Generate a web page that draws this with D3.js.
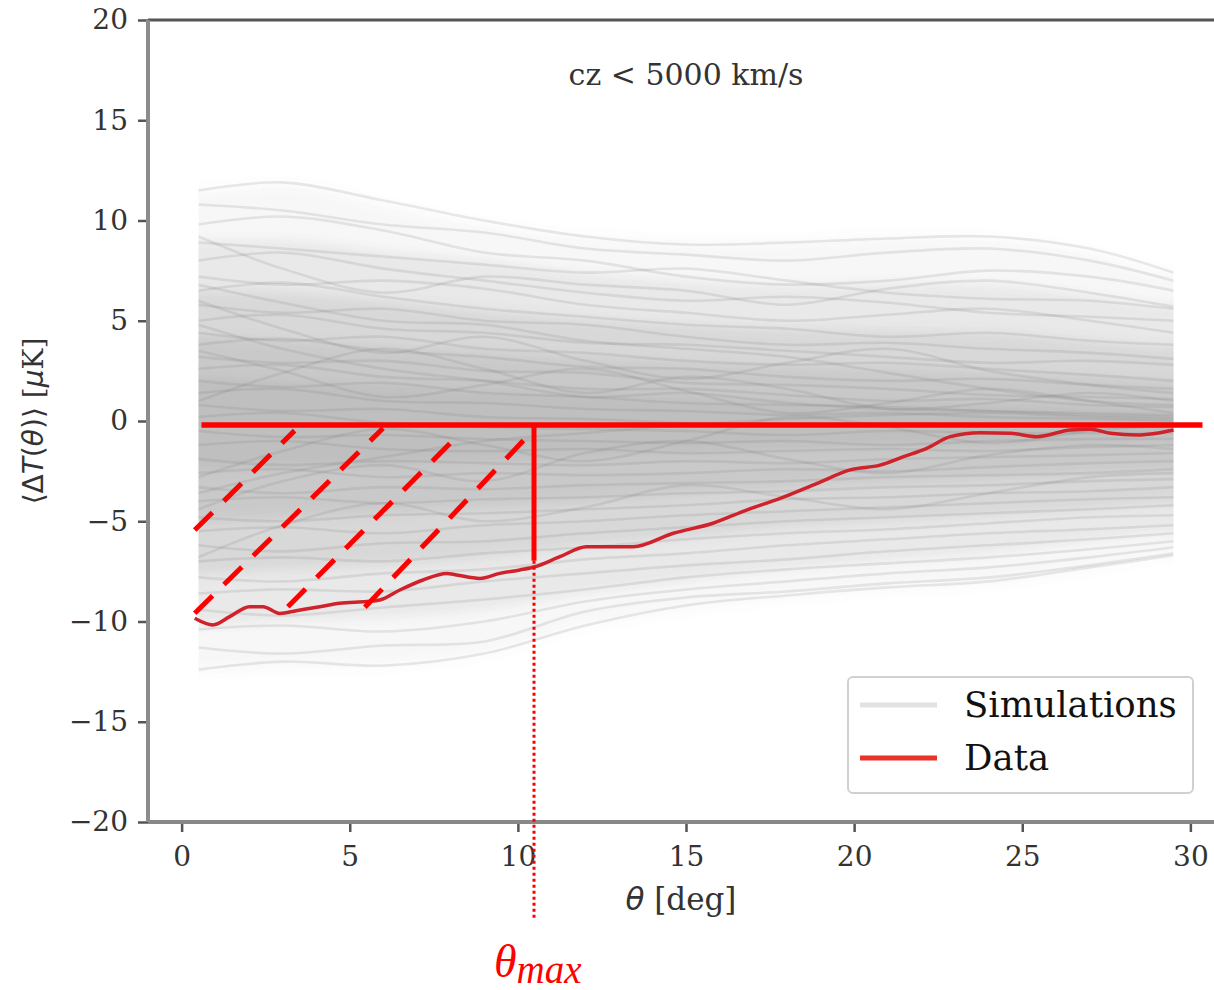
<!DOCTYPE html>
<html><head><meta charset="utf-8">
<script src="https://cdn.jsdelivr.net/npm/d3@7"></script>
<style>body{margin:0;background:#fff}</style>
</head><body>
<svg id="c" width="1214" height="990" xmlns="http://www.w3.org/2000/svg"></svg>
<script>
// ---------- data ----------
const xTicks = [0, 5, 10, 15, 20, 25, 30];
const yTicks = [-20, -15, -10, -5, 0, 5, 10, 15, 20];
const titleText = "cz < 5000 km/s";
const legendLabels = ["Simulations", "Data"];

// sample angles of the simulation curves
const simTheta = [0.5, 3, 6, 9, 12, 15, 18, 21, 24, 27, 29.5];
// simulation spread envelopes, outermost to core
const band1Hi = [11.5, 11.8, 10.8, 9.8, 9.2, 9.0, 9.0, 9.2, 9.1, 8.4, 7.4];
const band1Lo = [-12.5, -12.3, -12.2, -11.6, -10.2, -9.4, -8.8, -8.4, -8.1, -7.4, -6.7];
const band2Hi = [9.0, 9.0, 8.5, 8.0, 7.4, 7.0, 6.8, 6.9, 6.8, 6.3, 5.8];
const band2Lo = [-10.2, -10.0, -9.8, -9.4, -8.6, -8.0, -7.4, -7.0, -6.6, -6.0, -5.6];
const band3Hi = [6.5, 6.4, 6.0, 5.5, 5.1, 4.8, 4.6, 4.5, 4.4, 4.0, 3.7];
const band3Lo = [-7.6, -7.4, -7.2, -6.8, -6.2, -5.8, -5.3, -5.0, -4.7, -4.4, -4.1];
const band4Hi = [4.2, 4.0, 3.7, 3.4, 3.1, 2.9, 2.7, 2.6, 2.4, 2.2, 2.0];
const band4Lo = [-5.0, -4.8, -4.6, -4.3, -4.0, -3.6, -3.3, -3.0, -2.8, -2.6, -2.5];
const band5Hi = [2.2, 2.0, 1.8, 1.6, 1.4, 1.2, 1.0, 0.9, 0.8, 0.7, 0.6];
const band5Lo = [-2.4, -2.3, -2.2, -2.0, -1.8, -1.6, -1.4, -1.3, -1.2, -1.1, -1.0];

// individual simulation curves (values at simTheta)
const simCurves = [
  [11.5, 11.9, 11.0, 10.0, 9.2, 8.8, 8.9, 9.1, 9.2, 8.6, 7.4],
  [10.8, 10.5, 9.8, 9.4, 8.6, 8.3, 8.0, 8.4, 8.6, 8.0, 7.0],
  [9.8, 10.2, 9.5, 8.4, 8.0, 7.2, 6.8, 7.0, 7.5, 7.2, 6.5],
  [8.9, 8.6, 8.2, 7.8, 7.4, 7.6, 7.0, 6.4, 6.1, 6.0, 5.6],
  [8.0, 8.4, 7.6, 7.0, 6.4, 6.0, 6.2, 5.9, 5.4, 5.2, 5.0],
  [7.2, 6.8, 7.0, 6.6, 5.8, 5.4, 5.0, 5.3, 5.6, 5.0, 4.4],
  [6.5, 6.9, 6.2, 5.6, 5.2, 4.8, 4.6, 4.2, 4.4, 4.0, 3.8],
  [5.8, 5.4, 5.6, 5.0, 4.8, 4.2, 3.8, 3.9, 3.6, 3.4, 3.1],
  [5.0, 5.3, 4.6, 4.4, 3.9, 3.8, 3.5, 3.2, 2.9, 3.0, 2.8],
  [4.4, 4.0, 4.2, 3.6, 3.4, 3.0, 2.8, 2.9, 2.6, 2.3, 2.0],
  [3.8, 4.1, 3.5, 3.2, 2.7, 2.6, 2.2, 2.0, 2.1, 1.8, 1.6],
  [3.2, 2.9, 3.0, 2.5, 2.4, 1.9, 1.8, 1.6, 1.3, 1.2, 1.1],
  [2.6, 2.8, 2.2, 2.0, 1.6, 1.6, 1.3, 1.0, 1.1, 0.8, 0.7],
  [2.0, 1.7, 1.9, 1.4, 1.2, 0.9, 0.8, 0.7, 0.5, 0.4, 0.3],
  [1.4, 1.6, 1.0, 0.9, 0.6, 0.5, 0.3, 0.4, 0.2, 0.1, 0.0],
  [0.8, 0.5, 0.6, 0.2, 0.1, -0.1, -0.2, -0.1, -0.2, -0.3, -0.3],
  [0.2, 0.4, -0.1, -0.3, -0.4, -0.5, -0.7, -0.5, -0.6, -0.6, -0.6],
  [-0.5, -0.8, -0.7, -0.9, -1.0, -1.1, -1.0, -1.2, -1.0, -0.9, -0.9],
  [-1.2, -1.0, -1.4, -1.5, -1.4, -1.6, -1.5, -1.4, -1.5, -1.3, -1.2],
  [-1.9, -2.2, -2.0, -2.1, -2.2, -2.0, -2.1, -1.9, -1.8, -1.7, -1.6],
  [-2.6, -2.4, -2.8, -2.6, -2.7, -2.6, -2.4, -2.5, -2.3, -2.1, -2.0],
  [-3.3, -3.6, -3.3, -3.4, -3.2, -3.1, -3.0, -2.8, -2.7, -2.6, -2.4],
  [-4.0, -3.8, -4.1, -3.9, -3.8, -3.6, -3.5, -3.3, -3.2, -3.0, -2.9],
  [-4.8, -5.0, -4.7, -4.6, -4.4, -4.2, -3.9, -3.8, -3.6, -3.5, -3.3],
  [-5.5, -5.3, -5.6, -5.2, -5.0, -4.7, -4.5, -4.3, -4.1, -3.9, -3.8],
  [-6.2, -6.5, -6.1, -6.0, -5.6, -5.3, -5.0, -4.8, -4.6, -4.4, -4.2],
  [-7.0, -6.8, -7.0, -6.6, -6.3, -5.9, -5.6, -5.4, -5.1, -4.8, -4.7],
  [-7.8, -8.0, -7.6, -7.4, -6.9, -6.6, -6.2, -5.9, -5.6, -5.4, -5.2],
  [-8.6, -8.4, -8.5, -8.0, -7.6, -7.2, -6.9, -6.5, -6.2, -5.9, -5.6],
  [-9.4, -9.7, -9.3, -8.9, -8.4, -7.8, -7.4, -7.1, -6.8, -6.4, -6.0],
  [-10.4, -10.2, -10.5, -10.0, -9.0, -8.4, -8.0, -7.6, -7.3, -6.8, -6.3],
  [-11.3, -11.6, -11.2, -11.0, -9.5, -8.8, -8.5, -8.1, -7.8, -7.2, -6.6],
  [-12.4, -12.0, -12.2, -11.6, -10.2, -9.2, -8.7, -8.3, -8.0, -7.3, -6.7],
  [3.5, 2.5, 1.2, 1.8, 2.6, 1.5, 0.4, 0.9, 1.6, 1.0, 0.4],
  [-2.8, -1.5, -0.4, -1.2, -2.0, -1.0, 0.2, -0.3, -1.1, -0.5, -0.2],
  [6.0, 4.6, 3.4, 4.2, 3.0, 2.1, 2.9, 3.6, 2.5, 1.8, 1.4],
  [-6.8, -5.2, -4.1, -5.0, -4.3, -3.2, -3.8, -4.4, -3.6, -2.8, -2.6],
  [1.0, 2.4, 3.6, 2.6, 1.4, 2.2, 1.6, 0.6, 0.9, 1.4, 1.0],
  [-4.4, -3.0, -2.2, -3.0, -1.6, -1.0, -1.9, -2.6, -1.7, -1.2, -1.4],
  [9.2, 7.6, 6.4, 7.2, 6.8, 6.5, 5.8, 6.6, 7.0, 6.4, 5.7],
  [4.8, 3.6, 2.6, 2.0, 1.2, 1.4, 0.9, 0.6, 0.5, 0.3, 0.2],
  [-3.6, -2.6, -1.8, -1.0, -0.6, -0.2, 0.1, 0.3, 0.4, 0.2, 0.1],
  [6.8, 5.9, 5.0, 4.8, 4.0, 3.6, 3.2, 2.4, 1.6, 1.0, 0.8]
];

// measured data curve
const dataTheta = [0.39, 0.93, 1.43, 2.02, 2.42, 2.92, 3.41, 4.11, 4.70, 5.50, 5.89, 6.49, 7.18, 7.88, 8.18, 8.87, 9.46, 10.06, 10.51, 11.25, 12.04, 13.43, 14.62, 15.8, 16.8, 17.8, 18.9, 19.88, 20.77, 21.47, 22.16, 22.86, 23.75, 24.64, 25.44, 26.43, 27.02, 27.62, 28.41, 29.0, 29.5];
const dataDeltaT = [-9.84, -10.17, -9.76, -9.26, -9.26, -9.6, -9.46, -9.26, -9.09, -9.0, -8.93, -8.43, -7.93, -7.6, -7.68, -7.85, -7.6, -7.43, -7.27, -6.77, -6.27, -6.27, -5.6, -5.1, -4.44, -3.86, -3.11, -2.44, -2.2, -1.78, -1.36, -0.78, -0.58, -0.61, -0.78, -0.45, -0.41, -0.61, -0.7, -0.61, -0.45];

// annotation (in data units)
const refLineTheta = [0.59, 30.36];
const refLineLevel = -0.2;
const thetaMax = 10.48;
const thetaMaxSpan = [-0.2, -6.97];
const thetaMaxDrop = [-6.97, -24.8];
const hatchFrom = [[0.39, -5.44], [0.39, -9.59], [3.16, -9.26], [5.45, -9.29]];
const hatchTo = [[3.36, -0.48], [5.99, -0.36], [8.06, -0.98], [10.23, -0.86]];

// ---------- drawing ----------
const svg = d3.select("#c");
const x = d3.scaleLinear().domain([-1, 31]).range([148, 1224]);
const y = d3.scaleLinear().domain([-20, 20]).range([822, 20]);
const serif = "'DejaVu Serif', serif";
const txt = "#333";

const defs = svg.append("defs");
defs.append("filter").attr("id", "soft").attr("x", "-5%").attr("y", "-5%").attr("width", "110%").attr("height", "110%")
  .append("feGaussianBlur").attr("stdDeviation", 6);
defs.append("clipPath").attr("id", "simclip").append("rect")
  .attr("x", x(simTheta[0])).attr("width", x(simTheta[simTheta.length - 1]) - x(simTheta[0]))
  .attr("y", y(20)).attr("height", y(-20) - y(20));

const plot = svg.append("g").attr("clip-path", "url(#simclip)");
const bandG = plot.append("g").attr("filter", "url(#soft)");

// envelopes
const bands = [[band1Lo, band1Hi, 0.06], [band2Lo, band2Hi, 0.10], [band3Lo, band3Hi, 0.14], [band4Lo, band4Hi, 0.14], [band5Lo, band5Hi, 0.11]];
bands.forEach(([lo, hi, op]) => {
  const pts = simTheta.map((t, i) => [t, lo[i], hi[i]]);
  // extend slightly beyond the ends so the clip gives crisp ends
  pts.unshift([simTheta[0] - 0.6, lo[0], hi[0]]);
  pts.push([simTheta[simTheta.length - 1] + 0.6, lo[lo.length - 1], hi[hi.length - 1]]);
  bandG.append("path")
    .datum(pts)
    .attr("d", d3.area().x(d => x(d[0])).y0(d => y(d[1])).y1(d => y(d[2])).curve(d3.curveMonotoneX))
    .attr("fill", "#707070").attr("fill-opacity", op);
});

const simLine = d3.line().x(d => x(d[0])).y(d => y(d[1])).curve(d3.curveCatmullRom.alpha(0.5));
simCurves.forEach(c => {
  plot.append("path")
    .datum(simTheta.map((t, i) => [t, c[i]]))
    .attr("d", simLine)
    .attr("fill", "none").attr("stroke", "#7a7a7a").attr("stroke-opacity", 0.17).attr("stroke-width", 2.6);
});

// data line
svg.append("path")
  .datum(dataTheta.map((t, i) => [t, dataDeltaT[i]]))
  .attr("d", d3.line().x(d => x(d[0])).y(d => y(d[1])).curve(d3.curveMonotoneX))
  .attr("fill", "none").attr("stroke", "#d0222a").attr("stroke-width", 3.5);

// axes
const ax = svg.append("g").attr("transform", `translate(0,${y(-20)})`)
  .call(d3.axisBottom(x).tickValues(xTicks).tickSize(10).tickPadding(14).tickFormat(d3.format("d")));
const ay = svg.append("g").attr("transform", `translate(${x(-1)},0)`)
  .call(d3.axisLeft(y).tickValues(yTicks).tickSize(10).tickPadding(10).tickFormat(d => d < 0 ? "\u2212" + Math.abs(d) : d));
[ax, ay].forEach(g => {
  g.select(".domain").remove();
  g.selectAll(".tick line").attr("stroke", "#555").attr("stroke-width", 2.5);
  g.selectAll(".tick text").attr("fill", txt).style("font-family", serif).style("font-size", "28px");
});
// spines
svg.append("line").attr("x1", x(-1)).attr("x2", x(31)).attr("y1", y(20)).attr("y2", y(20)).attr("stroke", "#555").attr("stroke-width", 3);
svg.append("line").attr("x1", x(-1)).attr("x2", x(31)).attr("y1", y(-20)).attr("y2", y(-20)).attr("stroke", "#888").attr("stroke-width", 4);
svg.append("line").attr("x1", x(-1)).attr("x2", x(-1)).attr("y1", y(20)).attr("y2", y(-20)).attr("stroke", "#8c8c8c").attr("stroke-width", 4);

// title
svg.append("text").attr("x", x(15)).attr("y", 85).attr("text-anchor", "middle")
  .style("font-family", serif).style("font-size", "30px").attr("fill", txt).text(titleText);

// x label
const xl = svg.append("text").attr("x", x(14.85)).attr("y", 910).attr("text-anchor", "middle")
  .style("font-family", serif).style("font-size", "31px").attr("fill", txt);
xl.append("tspan").style("font-style", "italic").style("font-family", "'DejaVu Sans', sans-serif").text("\u03b8");
xl.append("tspan").text(" [deg]");

// y label
const yl = svg.append("text").attr("transform", `translate(43,${y(0)}) rotate(-90)`).attr("text-anchor", "middle")
  .style("font-family", serif).style("font-size", "28px").attr("fill", txt);
yl.append("tspan").style("font-family", "'DejaVu Sans', sans-serif").text("\u27e8\u0394");
yl.append("tspan").style("font-family", "'DejaVu Sans', sans-serif").style("font-style", "italic").text("T");
yl.append("tspan").style("font-family", "'DejaVu Sans', sans-serif").text("(");
yl.append("tspan").style("font-family", "'DejaVu Sans', sans-serif").style("font-style", "italic").text("\u03b8");
yl.append("tspan").style("font-family", "'DejaVu Sans', sans-serif").text(")\u27e9");
yl.append("tspan").text(" [");
yl.append("tspan").style("font-family", "'DejaVu Sans', sans-serif").style("font-style", "italic").text("\u03bc");
yl.append("tspan").text("K]");

// legend
const lg = svg.append("g");
lg.append("rect").attr("x", 848).attr("y", 677).attr("width", 345).attr("height", 116).attr("rx", 5)
  .attr("fill", "#fff").attr("fill-opacity", 0.85).attr("stroke", "#d0d0d0").attr("stroke-width", 2);
lg.append("line").attr("x1", 860).attr("x2", 937).attr("y1", 705).attr("y2", 705).attr("stroke", "#e2e2e2").attr("stroke-width", 5);
lg.append("line").attr("x1", 860).attr("x2", 937).attr("y1", 758).attr("y2", 758).attr("stroke", "#e8332a").attr("stroke-width", 5);
legendLabels.forEach((l, i) => {
  lg.append("text").attr("x", 964).attr("y", 717 + i * 53).style("font-family", serif).style("font-size", "35.5px")
    .attr("fill", "#111").text(l);
});

// red annotation
const ann = svg.append("g").attr("stroke", "#ff0000").attr("fill", "none");
ann.append("line").attr("x1", x(refLineTheta[0])).attr("x2", x(refLineTheta[1]))
  .attr("y1", y(refLineLevel)).attr("y2", y(refLineLevel)).attr("stroke-width", 5.5);
ann.append("line").attr("x1", x(thetaMax)).attr("x2", x(thetaMax))
  .attr("y1", y(thetaMaxSpan[0])).attr("y2", y(thetaMaxSpan[1])).attr("stroke-width", 5);
ann.append("line").attr("x1", x(thetaMax)).attr("x2", x(thetaMax))
  .attr("y1", y(thetaMaxDrop[0])).attr("y2", y(thetaMaxDrop[1])).attr("stroke-width", 3).attr("stroke-dasharray", "3,3");
hatchFrom.forEach((p, i) => {
  ann.append("line").attr("x1", x(p[0])).attr("y1", y(p[1])).attr("x2", x(hatchTo[i][0])).attr("y2", y(hatchTo[i][1]))
    .attr("stroke-width", 5).attr("stroke-dasharray", "25,16");
});

// theta_max label
const tm = svg.append("text").attr("x", 494).attr("y", 977).attr("fill", "#ff0000")
  .style("font-family", "'Liberation Serif', serif").style("font-style", "italic");
tm.append("tspan").style("font-size", "46px").text("\u03b8");
tm.append("tspan").attr("dy", 6).style("font-size", "39px").text("max");
</script>
</body></html>
